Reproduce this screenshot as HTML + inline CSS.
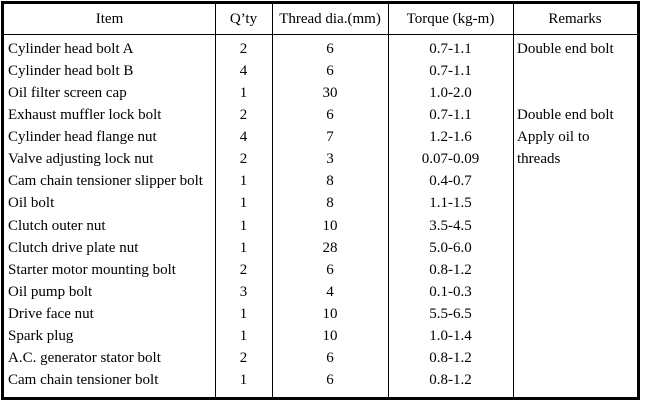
<!DOCTYPE html>
<html><head><meta charset="utf-8"><style>
body{margin:0;width:647px;height:407px;background:#fff;font-family:"Liberation Serif",serif;font-size:15px;color:#000;position:relative;overflow:hidden}
.frame{position:absolute;left:1px;top:1px;width:633px;height:393px;border:3px solid #000}
.v{position:absolute;top:4px;height:393px;width:1px;background:#000}
.h{position:absolute;left:4px;width:633px;top:34px;height:1px;background:#000}
.c{position:absolute;height:22px;line-height:22px;white-space:nowrap}
.ctr{text-align:center}
</style></head><body>
<div class="frame"></div>
<div class="v" style="left:215px"></div>
<div class="v" style="left:272px"></div>
<div class="v" style="left:388px"></div>
<div class="v" style="left:513px"></div>
<div class="h"></div>
<div id="t"></div>
<script>
const cols=[[4,215],[215,272],[272,388],[388,513],[513,637]];
const header=["Item","Q’ty","Thread dia.(mm)","Torque (kg-m)","Remarks"];
const items=["Cylinder head bolt A","Cylinder head bolt B","Oil filter screen cap","Exhaust muffler lock bolt","Cylinder head flange nut","Valve adjusting lock nut","Cam chain tensioner slipper bolt","Oil bolt","Clutch outer nut","Clutch drive plate nut","Starter motor mounting bolt","Oil pump bolt","Drive face nut","Spark plug","A.C. generator stator bolt","Cam chain tensioner bolt"];
const qty=["2","4","1","2","4","2","1","1","1","1","2","3","1","1","2","1"];
const dia=["6","6","30","6","7","3","8","8","10","28","6","4","10","10","6","6"];
const torque=["0.7-1.1","0.7-1.1","1.0-2.0","0.7-1.1","1.2-1.6","0.07-0.09","0.4-0.7","1.1-1.5","3.5-4.5","5.0-6.0","0.8-1.2","0.1-0.3","5.5-6.5","1.0-1.4","0.8-1.2","0.8-1.2"];
const remarks=["Double end bolt","","","Double end bolt","Apply oil to","threads","","","","","","","","","",""];
const t=document.getElementById('t');
function cell(txt,ci,top,center,name){
 const d=document.createElement('div');
 d.className='c'+(center?' ctr':'');
 d.style.top=top+'px';
 if(center){d.style.left=cols[ci][0]+'px';d.style.width=(cols[ci][1]-cols[ci][0])+'px';}
 else{d.style.left=(cols[ci][0]+4)+'px';}
 d.textContent=txt;
 
 
 t.appendChild(d);
}
header.forEach((h,i)=>cell(h,i,8,true,'header-cell'));
items.forEach((it,r)=>{
 const top=38+r*22.07;
 cell(it,0,top,false,'item-cell');
 cell(qty[r],1,top,true,'qty-cell');
 cell(dia[r],2,top,true,'thread-dia-cell');
 cell(torque[r],3,top,true,'torque-cell');
 if(remarks[r])cell(remarks[r],4,top,false,'remarks-cell');
});
</script>
</body></html>
